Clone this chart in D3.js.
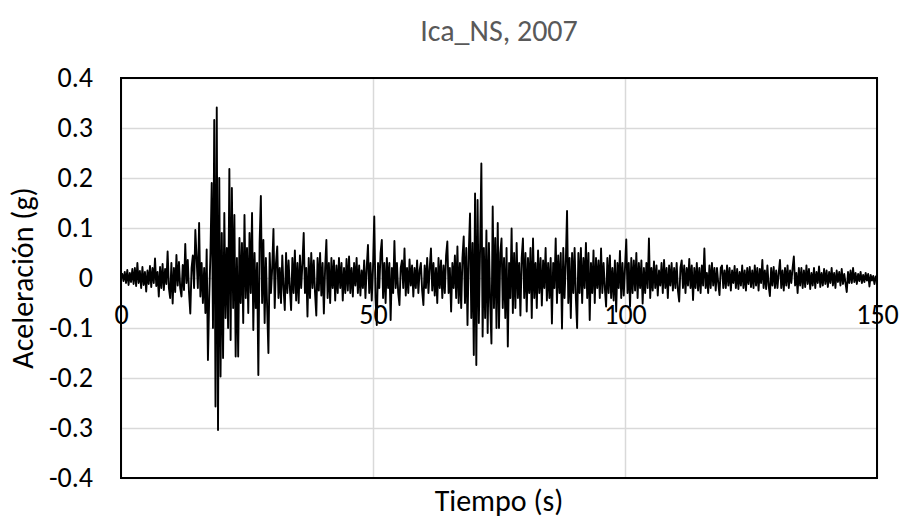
<!DOCTYPE html>
<html>
<head>
<meta charset="utf-8">
<script src="https://cdn.jsdelivr.net/npm/d3@7"></script>
<style>
  html, body { margin: 0; padding: 0; background: #fff; }
  svg { display: block; }
</style>
</head>
<body>
<svg id="chart" width="901" height="520"></svg>
<script>
// ---- data ----
const chartTitle = "Ica_NS, 2007";
const xLabel = "Tiempo (s)";
const yLabel = "Aceleración (g)";
const xTicks = [0, 50, 100, 150];
const yTicks = [-0.4, -0.3, -0.2, -0.1, 0, 0.1, 0.2, 0.3, 0.4];
const dt = 0.25; // sample step (s)
// acceleration (g), one row per 5 s
const accel = [
  0, 0.008, -0.006, 0.012, -0.01, 0.016, -0.014, 0.01, -0.008, 0.018, -0.012, 0.02, -0.016, 0.03, -0.01, 0.014, -0.02, 0.022, -0.014, 0.012,
  -0.027, 0.015, -0.012, 0.024, -0.018, 0.02, -0.01, 0.039, -0.016, 0.012, -0.037, 0.022, -0.02, 0.028, -0.024, 0.018, -0.012, 0.053, -0.02, -0.04,
  0.03, -0.051, 0.02, -0.028, 0.046, -0.015, 0.032, -0.02, -0.037, 0.026, -0.024, 0.068, -0.01, 0.036, -0.03, -0.071, 0.02, 0.045, -0.02, 0.096,
  0.04, -0.02, 0.11, -0.037, 0.03, -0.05, 0.02, -0.07, 0.057, -0.164, -0.04, 0.05, 0.19, -0.1, 0.316, -0.257, 0.341, -0.304, 0.2, -0.197,
  0.09, -0.16, 0.13, -0.08, 0.06, -0.1, 0.218, -0.124, 0.18, -0.06, 0.126, -0.157, 0.04, -0.157, 0.08, -0.05, 0.07, -0.09, 0.126, -0.04,
  0.06, -0.07, 0.09, -0.03, 0.13, -0.104, 0.05, -0.06, 0.03, -0.194, 0.07, 0.164, -0.05, 0.076, -0.09, 0.04, -0.06, -0.15, 0.05, -0.03,
  0.02, 0.098, -0.06, 0.03, 0.063, -0.04, 0.02, -0.05, 0.045, -0.02, -0.064, 0.05, -0.03, 0.035, -0.02, -0.064, 0.04, -0.03, 0.055, -0.045,
  0.03, -0.05, 0.045, -0.02, 0.03, 0.09, -0.03, 0.02, -0.077, 0.04, -0.04, 0.05, -0.02, 0.035, -0.03, -0.075, 0.04, -0.025, 0.05, -0.035,
  0.03, -0.071, 0.02, 0.076, -0.04, 0.03, -0.05, 0.04, -0.02, 0.035, -0.045, 0.025, -0.03, 0.04, -0.02, 0.03, -0.045, 0.02, -0.03, 0.038,
  -0.025, 0.043, -0.03, 0.02, -0.037, 0.03, -0.015, 0.04, -0.03, 0.025, -0.035, 0.015, -0.02, 0.035, -0.04, 0.02, 0.066, -0.03, 0.03, -0.045,
  0.02, 0.123, -0.04, -0.094, 0.03, -0.02, 0.05, 0.076, -0.04, 0.03, -0.05, 0.04, -0.02, 0.03, -0.084, 0.02, -0.03, 0.074, -0.02, 0.03,
  -0.03, -0.054, 0.02, 0.035, -0.02, 0.059, -0.035, 0.02, -0.03, 0.037, -0.015, 0.025, -0.037, 0.02, -0.02, 0.035, -0.03, 0.015, 0.03, -0.025,
  -0.054, 0.025, -0.02, 0.04, -0.03, 0.02, 0.059, -0.025, 0.03, -0.035, 0.02, -0.05, 0.04, -0.02, 0.035, -0.04, 0.025, -0.03, 0.045, 0.073,
  -0.03, 0.02, -0.067, 0.03, -0.02, 0.045, -0.04, 0.063, -0.05, 0.03, -0.06, 0.04, 0.083, -0.05, 0.06, -0.094, 0.05, 0.129, -0.08, 0.07,
  -0.154, 0.169, -0.174, 0.156, -0.09, 0.06, 0.229, -0.117, 0.06, -0.08, 0.095, -0.11, 0.07, -0.05, -0.131, 0.143, -0.06, 0.08, -0.1, 0.11,
  -0.1, 0.05, 0.079, -0.06, 0.04, -0.08, 0.06, -0.137, 0.03, -0.04, 0.099, -0.07, 0.05, -0.06, 0.07, -0.04, 0.03, -0.075, 0.04, 0.079,
  -0.04, 0.05, -0.067, 0.04, -0.03, 0.06, -0.08, 0.079, -0.04, 0.03, -0.06, 0.055, -0.03, 0.04, -0.055, 0.035, -0.02, 0.06, -0.045, 0.03,
  -0.04, 0.04, -0.091, 0.03, -0.02, 0.079, -0.05, 0.045, -0.03, 0.05, -0.101, 0.06, -0.04, 0.03, 0.134, -0.05, 0.04, -0.08, 0.05, -0.03,
  0.06, -0.04, -0.1, 0.05, -0.03, 0.06, -0.05, 0.04, -0.02, 0.07, -0.04, 0.05, -0.084, 0.03, -0.03, 0.055, -0.05, 0.04, -0.02, 0.035,
  -0.04, 0.059, -0.03, 0.03, -0.02, -0.057, 0.04, -0.03, 0.045, -0.04, 0.02, -0.045, 0.035, -0.067, 0.03, -0.02, 0.054, -0.04, 0.03, -0.035,
  0.02, 0.077, -0.03, 0.03, -0.057, 0.04, -0.03, 0.035, -0.025, 0.05, -0.04, 0.03, -0.02, 0.035, -0.051, 0.02, -0.03, 0.03, -0.02, 0.079,
  -0.04, 0.02, -0.025, 0.033, -0.02, 0.025, -0.035, 0.015, -0.015, 0.03, -0.03, 0.036, -0.02, 0.02, -0.04, 0.025, -0.015, 0.03, -0.025, 0.02,
  -0.02, 0.03, -0.025, -0.047, 0.02, 0.035, -0.02, 0.025, -0.03, 0.02, -0.015, 0.038, -0.02, 0.025, -0.044, 0.02, -0.02, 0.03, -0.025, 0.02,
  -0.03, 0.025, -0.015, 0.059, -0.02, 0.01, -0.03, 0.025, -0.02, 0.03, -0.015, 0.02, -0.025, 0.02, -0.01, -0.034, 0.02, 0.025, -0.02, 0.015,
  -0.02, 0.025, -0.015, 0.02, -0.025, 0.015, -0.01, 0.024, -0.02, 0.018, -0.022, 0.012, -0.015, 0.025, -0.02, 0.015, -0.025, 0.02, -0.012, 0.022,
  -0.018, 0.015, -0.02, 0.025, -0.015, 0.02, -0.025, 0.018, -0.01, 0.036, -0.02, 0.015, -0.022, 0.025, -0.015, -0.036, 0.02, -0.015, 0.022, -0.02,
  0.015, -0.02, 0.01, 0.036, -0.02, 0.015, -0.025, 0.02, -0.015, 0.025, -0.02, 0.015, -0.01, 0.02, 0.043, -0.015, 0.01, -0.03, 0.02, -0.015,
  0.02, -0.02, 0.015, -0.018, 0.025, -0.012, 0.018, -0.022, 0.01, -0.015, 0.02, -0.02, 0.012, -0.01, 0.023, -0.018, 0.01, -0.015, 0.018, -0.012,
  0.015, -0.018, 0.012, -0.01, 0.02, -0.015, 0.01, -0.02, 0.015, -0.008, 0.012, -0.015, 0.018, -0.012, 0.008, -0.01, -0.028, 0.012, -0.01, 0.015,
  -0.01, 0.02, -0.008, 0.01, -0.012, 0.008, -0.006, 0.012, -0.01, 0.006, -0.008, 0.01, -0.005, 0.008, -0.017, 0.006, -0.005, 0.004, -0.012, 0.003,
  0
];

// ---- layout ----
const plot = { left: 121, right: 877, top: 78, bottom: 478 };
const font = "Carlito, Calibri, Lato, sans-serif";
const fmtY = d => d === 0 ? "0" : d.toFixed(1); // hyphen-minus as in the original

const svg = d3.select("#chart");
const x = d3.scaleLinear().domain([0, 150]).range([plot.left, plot.right]);
const y = d3.scaleLinear().domain([-0.4, 0.4]).range([plot.bottom, plot.top]);

// gridlines
svg.append("g")
  .attr("transform", `translate(${plot.left},0)`)
  .call(d3.axisLeft(y).tickValues(yTicks).tickSize(-(plot.right - plot.left)).tickFormat(""))
  .call(g => g.select(".domain").remove())
  .call(g => g.selectAll("line").attr("stroke", "#d9d9d9").attr("stroke-width", 1.5));
svg.append("g")
  .attr("transform", `translate(0,${plot.bottom})`)
  .call(d3.axisBottom(x).tickValues(xTicks).tickSize(-(plot.bottom - plot.top)).tickFormat(""))
  .call(g => g.select(".domain").remove())
  .call(g => g.selectAll("line").attr("stroke", "#d9d9d9").attr("stroke-width", 1.5));

// data line
const line = d3.line().x((d, i) => x(i * dt)).y(d => y(d));
svg.append("path")
  .datum(accel)
  .attr("fill", "none")
  .attr("stroke", "#000")
  .attr("stroke-width", 1.9)
  .attr("stroke-linejoin", "round")
  .attr("d", line);

// plot border
svg.append("rect")
  .attr("x", plot.left).attr("y", plot.top)
  .attr("width", plot.right - plot.left).attr("height", plot.bottom - plot.top)
  .attr("fill", "none").attr("stroke", "#000").attr("stroke-width", 2);

// y axis labels
const yAxis = svg.append("g")
  .attr("transform", `translate(${plot.left},0)`)
  .call(d3.axisLeft(y).tickValues(yTicks).tickSize(0).tickPadding(28).tickFormat(fmtY));
yAxis.select(".domain").remove();
yAxis.selectAll("text").attr("font-family", font).attr("font-size", 28).attr("fill", "#000");

// x axis labels (axis crosses at y = 0)
const xAxis = svg.append("g")
  .attr("transform", `translate(0,${y(0)})`)
  .call(d3.axisBottom(x).tickValues(xTicks).tickSize(0).tickFormat(d3.format("d")));
xAxis.select(".domain").remove();
xAxis.selectAll("text").attr("y", 46).attr("dy", null)
  .attr("font-family", font).attr("font-size", 28).attr("fill", "#000");

// title
svg.append("text")
  .attr("x", (plot.left + plot.right) / 2).attr("y", 41)
  .attr("text-anchor", "middle")
  .attr("font-family", font).attr("font-size", 30).attr("fill", "#595959")
  .text(chartTitle);

// axis titles
svg.append("text")
  .attr("x", (plot.left + plot.right) / 2).attr("y", 511)
  .attr("text-anchor", "middle")
  .attr("font-family", font).attr("font-size", 30).attr("fill", "#000")
  .text(xLabel);
svg.append("text")
  .attr("transform", `translate(33,${(plot.top + plot.bottom) / 2}) rotate(-90)`)
  .attr("text-anchor", "middle")
  .attr("font-family", font).attr("font-size", 30).attr("fill", "#000")
  .text(yLabel);
</script>
</body>
</html>
